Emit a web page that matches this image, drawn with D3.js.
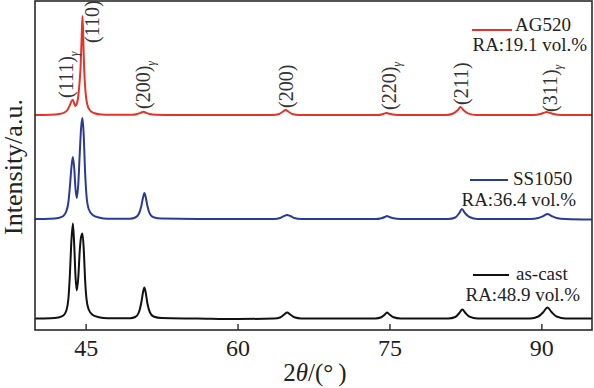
<!DOCTYPE html>
<html>
<head>
<meta charset="utf-8">
<script src="https://cdn.jsdelivr.net/npm/d3@7"></script>
<style>
  body { margin: 0; background: #fff; }
  text { font-family: "Liberation Serif", "Times New Roman", serif; }
</style>
</head>
<body>
<div id="chart"></div>
<script>
// Chart data
// =================================
var seriesNames = ["as-cast", "SS1050", "AG520"];
var raValues = ["48.9", "36.4", "19.1"];
var seriesColors = ["#111111", "#2a3a97", "#e5332a"];
// vertical offset of each pattern (a.u.)
var seriesOffsets = [11.5, 111, 215];

// [2theta, intensity above own baseline]
var asCastPts = [
  [40, 0], [41.5, 0.3], [42.3, 1], [42.8, 3], [43.1, 8], [43.3, 20], [43.45, 45], [43.58, 75],
  [43.74, 95], [43.88, 72], [44.0, 42], [44.13, 28], [44.28, 42], [44.42, 68], [44.56, 82],
  [44.69, 85], [44.82, 68], [44.94, 40], [45.08, 20], [45.3, 9], [45.7, 3.5], [46.3, 1.3],
  [47.2, 0.3], [49.4, 0.3], [49.9, 1.5], [50.25, 6], [50.5, 16], [50.68, 27], [50.8, 31],
  [50.93, 26], [51.1, 15], [51.35, 6], [51.7, 2], [52.5, 0.4], [56, 0], [60, -0.5],
  [63.6, 0], [64.2, 1], [64.6, 4], [64.9, 6], [65.2, 4], [65.6, 1.2], [66.3, 0],
  [73.6, 0], [74.2, 1.2], [74.55, 4], [74.75, 6], [75.0, 4], [75.4, 1.2], [76.1, 0],
  [80.8, 0], [81.5, 1.5], [81.9, 5.5], [82.2, 9], [82.5, 5.5], [82.9, 1.8], [83.7, 0],
  [88.9, 0], [89.7, 2], [90.2, 6.5], [90.6, 11], [91.0, 6.5], [91.5, 2], [92.4, 0], [95, 0]
];

var ss1050Pts = [
  [40, 0], [41.5, 0.3], [42.3, 1], [42.8, 3], [43.1, 8], [43.3, 17], [43.45, 33], [43.6, 52],
  [43.74, 62], [43.88, 50], [44.0, 30], [44.13, 21], [44.28, 36], [44.42, 66], [44.56, 92],
  [44.69, 101], [44.82, 82], [44.94, 48], [45.08, 24], [45.3, 10], [45.7, 4], [46.3, 1.5],
  [47.2, 0.3], [49.4, 0.3], [49.9, 1.5], [50.25, 5], [50.5, 13], [50.68, 22], [50.8, 26],
  [50.93, 22], [51.1, 13], [51.35, 5], [51.7, 1.8], [52.5, 0.4], [56, 0], [60, 0],
  [63.6, 0], [64.2, 1], [64.6, 3], [64.9, 4], [65.2, 3], [65.6, 1], [66.3, 0],
  [73.6, 0], [74.2, 0.8], [74.55, 2], [74.75, 3], [75.0, 2], [75.4, 0.8], [76.1, 0],
  [80.8, 0], [81.5, 1.5], [81.9, 6], [82.15, 10], [82.45, 6], [82.9, 2], [83.7, 0],
  [88.9, 0], [89.7, 1], [90.2, 3], [90.6, 5], [91.0, 3], [91.5, 1], [92.4, 0], [95, -0.5]
];

var ag520Pts = [
  [40, 0], [41.5, 0.3], [42.4, 1], [42.9, 2.5], [43.2, 5], [43.45, 10], [43.62, 14],
  [43.74, 15], [43.86, 12], [44.0, 9], [44.12, 11], [44.25, 17], [44.38, 30], [44.5, 48],
  [44.6, 75], [44.69, 99], [44.77, 74], [44.86, 45], [44.98, 24], [45.15, 11], [45.4, 5],
  [45.8, 2], [46.5, 0.6], [47.5, 0.2], [49.6, 0.2], [50.1, 1], [50.5, 2.5], [50.7, 3.2],
  [50.9, 2.5], [51.3, 1], [51.9, 0.2], [56, 0], [60, 0],
  [63.5, 0], [64.1, 1], [64.5, 3.5], [64.75, 5], [65.0, 3.5], [65.4, 1], [66.1, 0],
  [73.8, 0], [74.3, 0.8], [74.55, 1.6], [74.7, 2], [74.9, 1.6], [75.2, 0.8], [75.8, 0],
  [80.6, 0], [81.3, 1.5], [81.75, 5], [82.0, 8], [82.3, 5], [82.75, 1.6], [83.6, 0],
  [89.2, 0], [89.9, 1], [90.3, 2.4], [90.5, 3], [90.75, 2.4], [91.2, 1], [92, 0], [95, 0]
];

var seriesPts = [asCastPts, ss1050Pts, ag520Pts];

// peak labels: text, gamma phase?, 2theta of label, level (a.u.)
var peakLabels = ["(111)", "(110)", "(200)", "(200)", "(220)", "(211)", "(311)"];
var peakGamma = [true, false, true, false, true, false, true];
var peakLabelTheta = [43.75, 46.3, 51.4, 65.5, 75.6, 82.8, 91.5];
var peakLabelLevel = [232, 287, 221, 222, 220, 225, 218];

var xTicks = [45, 60, 75, 90];

// Step 1: Set up chart
// =================================
var svgWidth = 594;
var svgHeight = 388;

var frame = { left: 35, right: 592, top: 1, bottom: 330 };

var svg = d3.select("#chart")
  .append("svg")
  .attr("width", svgWidth)
  .attr("height", svgHeight);

var xScale = d3.scaleLinear()
  .domain([40, 95])
  .range([frame.left, frame.right]);

var yScale = d3.scaleLinear()
  .domain([0, 329])
  .range([frame.bottom, frame.top]);

// curves
var line = d3.line()
  .x(d => xScale(d[0]))
  .y(d => yScale(d[1]))
  .curve(d3.curveMonotoneX);

seriesPts.forEach(function(pts, i) {
  svg.append("path")
    .datum(pts.map(p => [p[0], p[1] + seriesOffsets[i]]))
    .attr("d", line)
    .attr("fill", "none")
    .attr("stroke", seriesColors[i])
    .attr("stroke-width", 2)
    .attr("stroke-linejoin", "round");
});

// frame
svg.append("rect")
  .attr("x", frame.left)
  .attr("y", frame.top)
  .attr("width", frame.right - frame.left)
  .attr("height", frame.bottom - frame.top)
  .attr("fill", "none")
  .attr("stroke", "#2a2a2a")
  .attr("stroke-width", 1.6);

// x axis, ticks pointing inwards
var bottomAxis = d3.axisBottom(xScale)
  .tickValues(xTicks)
  .tickSizeInner(-6)
  .tickSizeOuter(0)
  .tickPadding(9);

var xAxis = svg.append("g")
  .attr("transform", `translate(0, ${frame.bottom})`)
  .call(bottomAxis);

xAxis.select(".domain").remove();
xAxis.selectAll(".tick line").attr("stroke", "#2a2a2a").attr("stroke-width", 1.4);
xAxis.selectAll(".tick text")
  .attr("fill", "#222")
  .style("font-family", "'Liberation Serif', serif")
  .style("font-size", "24px");

// axis titles
var xTitle = svg.append("text")
  .attr("x", 315)
  .attr("y", 381)
  .attr("text-anchor", "middle")
  .attr("fill", "#222")
  .style("font-size", "25px");
xTitle.append("tspan").text("2");
xTitle.append("tspan").style("font-style", "italic").text("θ");
xTitle.append("tspan").text("/(\u00b0\u2009)");

svg.append("text")
  .attr("transform", "translate(22, 167) rotate(-90)")
  .attr("text-anchor", "middle")
  .attr("fill", "#222")
  .style("font-size", "26px")
  .text("Intensity/a.u.");

// peak labels
peakLabels.forEach(function(lbl, i) {
  var t = svg.append("text")
    .attr("transform", `translate(${xScale(peakLabelTheta[i])}, ${yScale(peakLabelLevel[i])}) rotate(-90)`)
    .attr("fill", "#333")
    .style("font-size", "20px");
  t.append("tspan").text(lbl);
  if (peakGamma[i]) {
    t.append("tspan")
      .attr("dy", 5)
      .style("font-size", "12px")
      .style("font-style", "italic")
      .text("γ");
  }
});

// legend entries
var legendLayout = [
  { lineY: 275, x1: 473, x2: 509, nameX: 516, nameY: 280, raX: 580, raY: 300.5 },
  { lineY: 180, x1: 470, x2: 508, nameX: 513, nameY: 185, raX: 576, raY: 205.5 },
  { lineY: 30, x1: 472, x2: 512, nameX: 515, nameY: 31, raX: 587, raY: 51 }
];

legendLayout.forEach(function(l, i) {
  svg.append("line")
    .attr("x1", l.x1).attr("x2", l.x2)
    .attr("y1", l.lineY).attr("y2", l.lineY)
    .attr("stroke", seriesColors[i])
    .attr("stroke-width", 2);

  svg.append("text")
    .attr("x", l.nameX)
    .attr("y", l.nameY)
    .attr("fill", "#222")
    .style("font-size", "19px")
    .text(seriesNames[i]);

  svg.append("text")
    .attr("x", l.raX)
    .attr("y", l.raY)
    .attr("text-anchor", "end")
    .attr("fill", "#222")
    .style("font-size", "19px")
    .text(`RA:${raValues[i]} vol.%`);
});
</script>
</body>
</html>
